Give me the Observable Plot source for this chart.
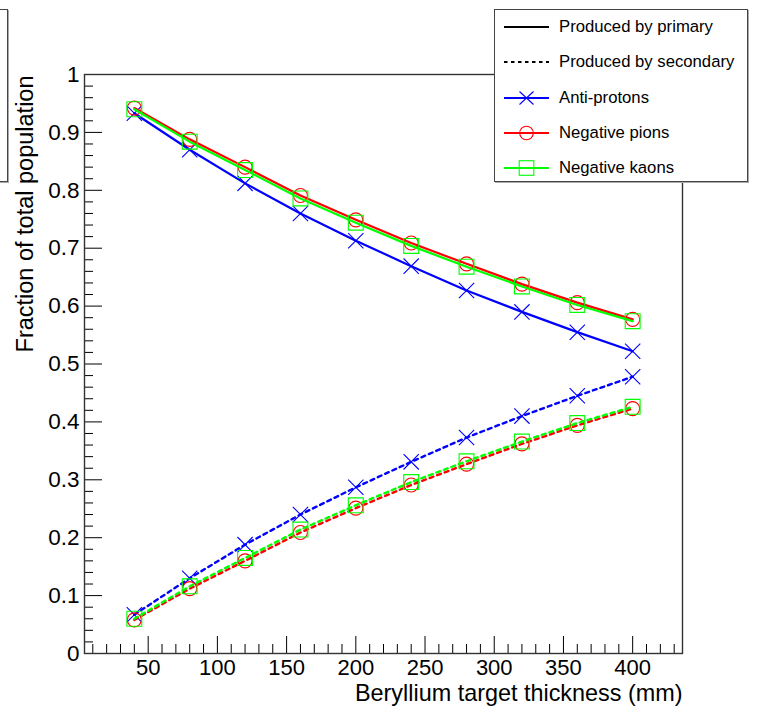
<!DOCTYPE html>
<html>
<head>
<meta charset="utf-8">
<script src="https://cdn.jsdelivr.net/npm/d3@7"></script>
<script src="https://cdn.jsdelivr.net/npm/@observablehq/plot@0.6"></script>
<style>
  html, body { margin: 0; padding: 0; background: #fff; overflow: hidden; }
  #wrap { position: relative; width: 758px; height: 708px; font-family: "Liberation Sans", Arial, sans-serif; }
  #legend { position: absolute; left: 494px; top: 9px; width: 252px; height: 171px; background: #fff;
            border: 1px solid #444; box-shadow: 1px 1px 0 #aaa; }
  .row { position: absolute; left: 0; height: 20px; display: flex; align-items: center; }
  .row svg { margin-left: 9px; }
  .row span { margin-left: 10px; font-size: 16.7px; color: #000; white-space: nowrap; }
  #stats { position: absolute; left: -200px; top: 9px; width: 206px; height: 171px; background: #fff;
           border: 1px solid #444; box-shadow: 1px 1px 0 #aaa; }
</style>
</head>
<body>
<div id="wrap"><div id="stats"></div><div id="legend"></div></div>
<script>
// ---- data ----
const thickness = [40, 80, 120, 160, 200, 240, 280, 320, 360, 400];
const primaryAntiProtons = [0.933, 0.870, 0.812, 0.760, 0.713, 0.669, 0.627, 0.590, 0.555, 0.522];
const primaryPions       = [0.942, 0.888, 0.840, 0.791, 0.749, 0.709, 0.673, 0.638, 0.606, 0.577];
const primaryKaons       = [0.940, 0.884, 0.835, 0.786, 0.744, 0.704, 0.668, 0.634, 0.602, 0.574];
const secondaryAntiProtons = [0.067, 0.130, 0.188, 0.240, 0.287, 0.331, 0.373, 0.410, 0.445, 0.478];
const secondaryPions       = [0.058, 0.112, 0.160, 0.209, 0.251, 0.291, 0.327, 0.362, 0.394, 0.423];
const secondaryKaons       = [0.060, 0.116, 0.165, 0.214, 0.256, 0.296, 0.332, 0.366, 0.398, 0.426];

const particles = ["Anti-protons", "Negative pions", "Negative kaons"];
const particleColors = ["#0000ff", "#ff0000", "#00ff00"];
const particleSymbols = ["times", "circle", "square"];
const productionLabels = ["Produced by primary", "Produced by secondary"];

const xTicks = [50, 100, 150, 200, 250, 300, 350, 400];
const yTicks = [0, 0.1, 0.2, 0.3, 0.4, 0.5, 0.6, 0.7, 0.8, 0.9, 1];
const yTickLabels = ["0", "0.1", "0.2", "0.3", "0.4", "0.5", "0.6", "0.7", "0.8", "0.9", "1"];
const xTitle = "Beryllium target thickness (mm)";
const yTitle = "Fraction of total population";

// ---- build series ----
const primary = [primaryAntiProtons, primaryPions, primaryKaons];
const secondary = [secondaryAntiProtons, secondaryPions, secondaryKaons];

const W = 758, H = 708;
const M = {top: 74, right: 76, bottom: 55, left: 84};
const frameW = W - M.left - M.right, frameH = H - M.top - M.bottom;

const xMinor = d3.range(10, 436, 10).filter(v => v % 50 !== 0);
const yMinor = d3.range(0, 51).map(i => i / 50).filter((v, i) => i % 5 !== 0);

const symbolR = {times: 7, circle: 7, square: 8.4};

const marks = [];
// ticks (inside, ROOT style)
marks.push(Plot.tickX(xTicks, {x: d => d, insetTop: frameH - 17, stroke: "#000"}));
marks.push(Plot.tickX(xMinor, {x: d => d, insetTop: frameH - 9, stroke: "#000"}));
marks.push(Plot.tickY(yTicks, {y: d => d, insetRight: frameW - 18, stroke: "#000"}));
marks.push(Plot.tickY(yMinor, {y: d => d, insetRight: frameW - 9, stroke: "#000"}));

particles.forEach((p, k) => {
  const color = particleColors[k];
  const prim = thickness.map((t, i) => ({t, v: primary[k][i]}));
  const sec = thickness.map((t, i) => ({t, v: secondary[k][i]}));
  marks.push(Plot.line(prim, {x: "t", y: "v", stroke: color, strokeWidth: 2.2}));
  marks.push(Plot.line(sec, {x: "t", y: "v", stroke: color, strokeWidth: 2.4, strokeDasharray: "4,4"}));
  const sym = particleSymbols[k];
  marks.push(Plot.dot(prim, {x: "t", y: "v", symbol: sym, r: symbolR[sym], stroke: color, strokeWidth: 1.1}));
  marks.push(Plot.dot(sec, {x: "t", y: "v", symbol: sym, r: symbolR[sym], stroke: color, strokeWidth: 1.1}));
});

marks.push(Plot.frame({stroke: "#333", strokeWidth: 1.4}));
marks.push(Plot.axisX(xTicks, {tickSize: 0, tickPadding: 6, fontSize: 22, label: null, color: "#000"}));
marks.push(Plot.axisY(yTicks, {tickSize: 0, tickPadding: 5, fontSize: 22.5, label: null,
  tickFormat: d => yTickLabels[yTicks.indexOf(d)], color: "#000"}));
marks.push(Plot.text([xTitle], {text: d => d, frameAnchor: "bottom-right", textAnchor: "end",
  lineAnchor: "bottom", dy: 47, fontSize: 23.4, fill: "#000"}));
marks.push(Plot.text([yTitle], {text: d => d, frameAnchor: "top-left", textAnchor: "end",
  lineAnchor: "bottom", rotate: -90, dx: -52, dy: 1, fontSize: 23.5, fill: "#000"}));

const chart = Plot.plot({
  width: W, height: H,
  marginTop: M.top, marginRight: M.right, marginBottom: M.bottom, marginLeft: M.left,
  x: {domain: [4, 436]},
  y: {domain: [0, 1]},
  style: {fontFamily: "'Liberation Sans', Arial, sans-serif", background: "#fff", color: "#000", overflow: "visible"},
  marks
});
document.getElementById("wrap").prepend(chart);

// ---- legend ----
const legend = document.getElementById("legend");
const rowsY = [17, 52, 88, 123, 158];
function swatch(color, dash, sym) {
  let s = `<svg width="45" height="18" viewBox="0 0 45 18"><line x1="0" y1="9" x2="45" y2="9" stroke="${color}" stroke-width="2.2"${dash ? ' stroke-dasharray="3.5,3.5"' : ''}/>`;
  if (sym === "times") s += `<path d="M15.5,2.5L29.5,15.5M15.5,15.5L29.5,2.5" stroke="${color}" stroke-width="1.1" fill="none"/>`;
  if (sym === "circle") s += `<circle cx="22.5" cy="9" r="6.8" stroke="${color}" stroke-width="1.1" fill="none"/>`;
  if (sym === "square") s += `<rect x="15.2" y="1.7" width="14.6" height="14.6" stroke="${color}" stroke-width="1.1" fill="none"/>`;
  return s + `</svg>`;
}
const entries = [
  {label: productionLabels[0], color: "#000", dash: false, sym: null},
  {label: productionLabels[1], color: "#000", dash: true, sym: null},
  ...particles.map((p, k) => ({label: p, color: particleColors[k], dash: false, sym: particleSymbols[k]}))
];
entries.forEach((e, i) => {
  const row = document.createElement("div");
  row.className = "row";
  row.style.top = (rowsY[i] - 10) + "px";
  row.innerHTML = swatch(e.color, e.dash, e.sym) + `<span>${e.label}</span>`;
  legend.appendChild(row);
});
</script>
</body>
</html>
